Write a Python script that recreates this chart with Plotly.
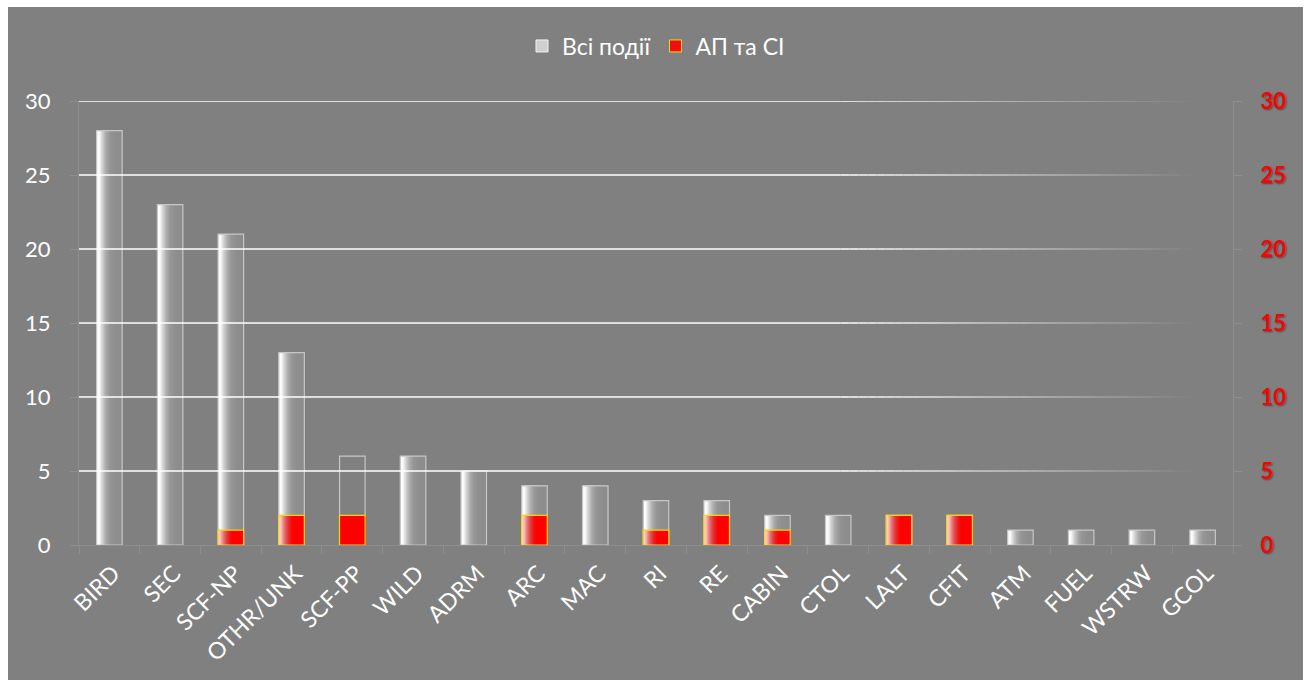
import plotly.graph_objects as go

# Event categories and counts
categories = ["BIRD", "SEC", "SCF-NP", "OTHR/UNK", "SCF-PP", "WILD", "ADRM", "ARC", "MAC",
              "RI", "RE", "CABIN", "CTOL", "LALT", "CFIT", "ATM", "FUEL", "WSTRW", "GCOL"]
all_events = [28, 23, 21, 13, 6, 6, 5, 4, 4, 3, 3, 2, 2, 2, 2, 1, 1, 1, 1]
ap_si = [0, 0, 1, 2, 2, 0, 0, 2, 0, 1, 2, 1, 0, 2, 2, 0, 0, 0, 0]
y_ticks = [0, 5, 10, 15, 20, 25, 30]

FONT = "Lato"
BG = "#808080"
AXIS = "#8e8e8e"
BAR_W = 0.42
N_STRIPS = 24
SOLID_RED = {"SCF-PP"}
HOLLOW = {"SCF-PP"}

# empty categories get no red bar at all
ap_si_drawn = [v if v else None for v in ap_si]


def interp(stops, t):
    for (t0, v0), (t1, v1) in zip(stops, stops[1:]):
        if t0 <= t <= t1:
            return v0 + (v1 - v0) * (t - t0) / (t1 - t0)
    return stops[-1][1]


# horizontal shading: white on the left edge, settling to grey
gray_stops = [(0, 255), (0.1, 250), (0.22, 210), (0.37, 170), (0.52, 150), (0.7, 143), (1, 140)]
# red opacity across the bar width
red_alpha = [(0, 0.12), (0.25, 0.5), (0.55, 1.0), (1, 1.0)]

fig = go.Figure()

# "Всі події" bars, built from nested strips to give a left-to-right gradient
for k in range(N_STRIPS):
    t = (k + 0.5) / N_STRIPS
    g = int(round(interp(gray_stops, t)))
    cols = ["rgba(0,0,0,0)" if c in HOLLOW else f"rgb({g},{g},{g})" for c in categories]
    fig.add_trace(go.Bar(
        x=categories, y=all_events,
        offset=-BAR_W / 2 + k * BAR_W / N_STRIPS, width=BAR_W - k * BAR_W / N_STRIPS,
        marker=dict(color=cols, line=dict(width=0)),
        showlegend=False, hoverinfo="skip",
    ))
fig.add_trace(go.Bar(
    x=categories, y=all_events, offset=-BAR_W / 2, width=BAR_W,
    marker=dict(color="rgba(0,0,0,0)", line=dict(color="#c6c6c6", width=1.2)),
    showlegend=False, hoverinfo="skip",
))

# "АП та СІ" bars on the secondary axis
for k in range(N_STRIPS):
    t = (k + 0.5) / N_STRIPS
    a = interp(red_alpha, t)
    g = interp(gray_stops, t)
    cols = []
    for c in categories:
        if c in SOLID_RED:
            cols.append("rgb(255,0,0)")
        else:
            r = int(round(a * 255 + (1 - a) * g))
            o = int(round((1 - a) * g))
            cols.append(f"rgb({r},{o},{o})")
    fig.add_trace(go.Bar(
        x=categories, y=ap_si_drawn, yaxis="y2",
        offset=-BAR_W / 2 + k * BAR_W / N_STRIPS, width=BAR_W - k * BAR_W / N_STRIPS,
        marker=dict(color=cols, line=dict(width=0)),
        showlegend=False, hoverinfo="skip",
    ))
fig.add_trace(go.Bar(
    x=categories, y=ap_si_drawn, yaxis="y2", offset=-BAR_W / 2, width=BAR_W,
    marker=dict(color="rgba(0,0,0,0)", line=dict(color="#ffd400", width=1.2)),
    showlegend=False, hoverinfo="skip",
))

# legend entries
fig.add_trace(go.Bar(x=[categories[0]], y=[None], name="Всі події",
                     marker=dict(color="#cfcfcf", line=dict(color="#f2f2f2", width=1))))
fig.add_trace(go.Bar(x=[categories[0]], y=[None], name="АП та СІ", yaxis="y2",
                     marker=dict(color="#ee1010", line=dict(color="#ffd400", width=1))))

# chart panel and fading white gridlines
L, R, T, B = 79, 73, 101, 139
PW, PH = 1306 - L - R, 684 - T - B
shapes = [dict(type="rect", xref="paper", yref="paper",
               x0=(8 - L) / PW, x1=(1303 - L) / PW,
               y0=-(680 - (684 - B)) / PH, y1=(684 - B - 7) / PH,
               fillcolor=BG, line=dict(width=0), layer="below")]
n_seg = 40
fade0, fade1 = 0.66, 0.97
for v in y_ticks[1:]:
    shapes.append(dict(type="line", xref="paper", yref="y", x0=0, x1=fade0, y0=v, y1=v,
                       line=dict(color="rgba(255,255,255,1)", width=1.6), layer="above"))
    for i in range(n_seg):
        x0 = fade0 + (fade1 - fade0) * i / n_seg
        x1 = fade0 + (fade1 - fade0) * (i + 1) / n_seg
        op = 1 - (i + 0.5) / n_seg
        shapes.append(dict(type="line", xref="paper", yref="y", x0=x0, x1=x1, y0=v, y1=v,
                           line=dict(color=f"rgba(255,255,255,{op * 0.95:.3f})", width=1.6),
                           layer="above"))

fig.update_layout(
    width=1306, height=684,
    margin=dict(l=L, r=R, t=T, b=B),
    paper_bgcolor="white", plot_bgcolor="rgba(0,0,0,0)",
    barmode="overlay",
    font=dict(family=FONT, color="white", size=19),
    shapes=shapes,
    legend=dict(orientation="h", x=0.5, xanchor="center", y=(684 - B - 46) / PH, yanchor="middle",
                font=dict(family=FONT, size=23, color="white"), bgcolor="rgba(0,0,0,0)",
                traceorder="normal"),
    xaxis=dict(
        type="category", tickangle=-45, tickson="boundaries",
        ticks="outside", ticklen=8, tickcolor=AXIS, showline=True, linecolor=AXIS, linewidth=1,
        showgrid=False, tickfont=dict(family=FONT, size=23, color="white"),
        ticklabelshift=4, ticklabelstandoff=5,
    ),
    yaxis=dict(
        range=[0, 30], tickvals=y_ticks, showgrid=False, zeroline=False,
        ticks="outside", ticklen=8, tickcolor=AXIS, showline=True, linecolor=AXIS, linewidth=1,
        tickfont=dict(family=FONT, size=22, color="white"), ticklabelstandoff=15,
    ),
    yaxis2=dict(
        range=[0, 30], tickvals=y_ticks, overlaying="y", side="right", showgrid=False,
        zeroline=False, ticks="outside", ticklen=8, tickcolor=AXIS, showline=True,
        linecolor=AXIS, linewidth=1, ticklabelstandoff=14,
        tickfont=dict(family=FONT, size=22, color="#ff0000", weight="bold",
                      shadow="1px 1px 2px rgba(0,0,0,0.45)"),
    ),
)

fig.write_html("out.html")
